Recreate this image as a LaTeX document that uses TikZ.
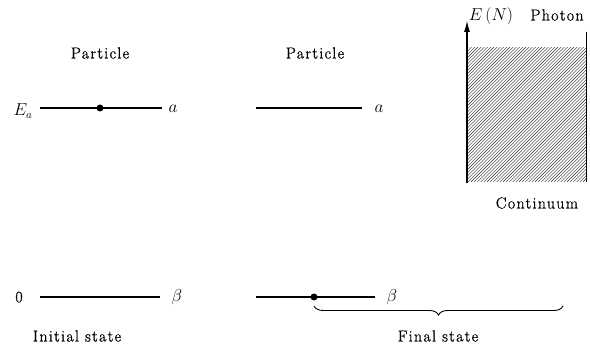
\documentclass[tikz,border=0pt]{standalone}
\usepackage{fontspec}
\setmainfont{Latin Modern Roman}[LetterSpace=8, FakeBold=0.8]
\usetikzlibrary{arrows.meta,decorations.pathreplacing}
\begin{document}
\begin{tikzpicture}[x=1pt,y=-1pt,
  lbl/.style={font=\fontsize{16}{19}\selectfont, inner sep=0pt},
  lvl/.style={line width=1.2pt},
  dotm/.style={circle, fill=black, inner sep=0pt, minimum size=7pt}]
\useasboundingbox (0,0) rectangle (590,350);
% labels
\node[lbl] (p1) at (100,53) {Particle};
\node[lbl] (p2) at (315,53) {Particle};
\node[lbl] (ea) at (23,111) {$E_a$};
\node[lbl] (a1) at (173,109) {$a$};
\node[lbl] (a2) at (379,109) {$a$};
\node[lbl] (zero) at (19,297) {0};
\node[lbl] (b1) at (177,297) {$\beta$};
\node[lbl] (b2) at (392,297) {$\beta$};
\node[lbl] (init) at (77,336) {Initial state};
\node[lbl] (fin) at (438,336) {Final state};
\node[lbl] (en) at (491,16) {$E\,(N)$};
\node[lbl] (ph) at (557,15) {Photon};
\node[lbl] (cont) at (537,203) {Continuum};
% level lines
\coordinate (l1a) at (40,108); \coordinate (l1b) at (162,108);
\coordinate (l2a) at (256,108); \coordinate (l2b) at (362,108);
\coordinate (l3a) at (40,297); \coordinate (l3b) at (160,297);
\coordinate (l4a) at (256,297); \coordinate (l4b) at (375,297);
\draw[lvl] (l1a) -- (l1b);
\draw[lvl] (l2a) -- (l2b);
\draw[lvl] (l3a) -- (l3b);
\draw[lvl] (l4a) -- (l4b);
\node[dotm] (d1) at (100,108) {};
\node[dotm] (d2) at (314,297) {};
% continuum hatching
\begin{scope}
\clip (467,48) rectangle (586,182);
\foreach \i in {-140,-136.8,...,125}
  \draw[line width=0.4pt, black!85] (467+\i,182) -- ++(140,-140);
\end{scope}
% axis
\coordinate (axb) at (467,183);
\coordinate (axt) at (467,20);
\draw[line width=1.6pt, -{Latex[length=12pt,width=6pt]}] (axb) -- (axt);
\coordinate (rt) at (586,32);
\coordinate (rb) at (586,182);
\draw[line width=1pt] (rt) -- (rb);
% brace
\coordinate (bl) at (314,306);
\coordinate (br) at (563,306);
\draw[line width=0.9pt, decorate, decoration={brace, mirror, amplitude=9pt}] (bl) -- (br);
\end{tikzpicture}
\end{document}
